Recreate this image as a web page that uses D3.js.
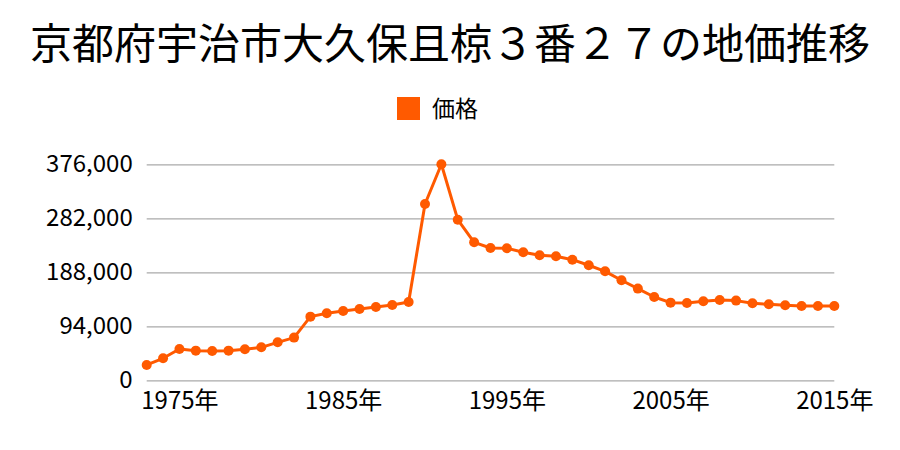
<!DOCTYPE html>
<html><head><meta charset="utf-8">
<script src="https://cdn.jsdelivr.net/npm/d3@7"></script>
<style>body{margin:0;background:#fff}svg{display:block}text{font-family:"Noto Sans CJK JP","Noto Sans",sans-serif}</style>
</head><body>
<svg id="c" width="900" height="450"></svg>
<script>
const title = "京都府宇治市大久保且椋３番２７の地価推移";
const seriesName = "価格";
const years = d3.range(1973, 2016);
const prices = [26700, 38300, 54500, 51600, 51100, 51600, 54000, 57400, 66100, 74300,
  110800, 116600, 120700, 124200, 127600, 131100, 136300, 306900, 376000, 279600,
  240200, 230300, 229800, 222800, 217600, 215800, 210000, 200200, 189700, 174100,
  159600, 145000, 135200, 134600, 137500, 139800, 138700, 134000, 132300, 130500,
  129400, 129400, 129400];
const yTicks = [0, 94000, 188000, 282000, 376000];
const xTicks = [1975, 1985, 1995, 2005, 2015];
const color = "#ff5a00";

const svg = d3.select("#c");
const x = d3.scaleLinear().domain([1973, 2015]).range([146.7, 834.3]);
const y = d3.scaleLinear().domain([0, 376000]).range([380.3, 164.3]);

svg.append("text").attr("x", 450).attr("y", 59).attr("text-anchor", "middle")
  .attr("font-size", 42).attr("fill", "#000").text(title);

svg.append("rect").attr("x", 397).attr("y", 97).attr("width", 23).attr("height", 23).attr("fill", color);
svg.append("text").attr("x", 432).attr("y", 117).attr("font-size", 23).attr("fill", "#000").text(seriesName);

const yAxis = svg.append("g").attr("transform", `translate(${x(1973)},0)`)
  .call(d3.axisLeft(y).tickValues(yTicks).tickSize(-(x(2015) - x(1973))).tickPadding(14)
    .tickFormat(d3.format(",")));
yAxis.select(".domain").remove();
yAxis.selectAll(".tick line").attr("stroke", "#aaa").attr("stroke-width", 1.3);
yAxis.selectAll(".tick text").attr("font-size", 24).attr("fill", "#000")
  .attr("font-family", '"Noto Sans CJK JP","Noto Sans",sans-serif');

const xAxis = svg.append("g").attr("transform", `translate(0,${y(0)})`)
  .call(d3.axisBottom(x).tickValues(xTicks).tickSize(0).tickPadding(12).tickFormat(d => d + "年"));
xAxis.select(".domain").remove();
xAxis.selectAll(".tick text").attr("font-size", 24).attr("fill", "#000")
  .attr("font-family", '"Noto Sans CJK JP","Noto Sans",sans-serif');

const data = years.map((yr, i) => ({yr, v: prices[i]}));
svg.append("path").datum(data)
  .attr("fill", "none").attr("stroke", color).attr("stroke-width", 3).attr("stroke-linejoin", "round")
  .attr("d", d3.line().x(d => x(d.yr)).y(d => y(d.v)));
svg.append("g").selectAll("circle").data(data).join("circle")
  .attr("cx", d => x(d.yr)).attr("cy", d => y(d.v)).attr("r", 5).attr("fill", color);
</script>
</body></html>
